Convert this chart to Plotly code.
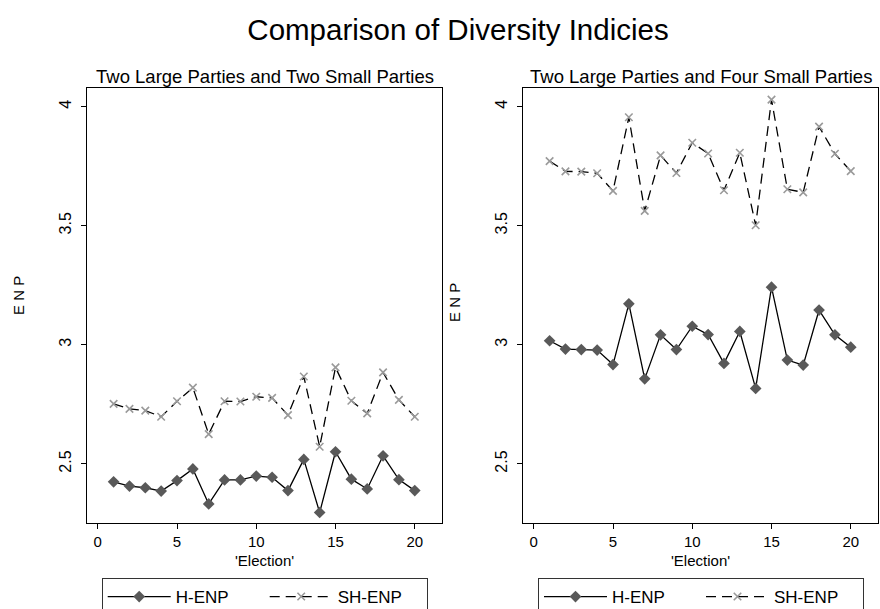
import plotly.graph_objects as go

elections = list(range(1, 21))

# Two large parties and two small parties
h_enp_2small = [2.425, 2.407, 2.400, 2.386, 2.430, 2.479, 2.332, 2.433, 2.433, 2.449,
                2.444, 2.388, 2.519, 2.296, 2.551, 2.436, 2.395, 2.534, 2.434, 2.388]
sh_enp_2small = [2.752, 2.731, 2.724, 2.698, 2.763, 2.820, 2.625, 2.763, 2.762, 2.782,
                 2.777, 2.705, 2.867, 2.572, 2.905, 2.765, 2.712, 2.884, 2.769, 2.698]

# Two large parties and four small parties
h_enp_4small = [3.017, 2.982, 2.980, 2.978, 2.917, 3.172, 2.857, 3.042, 2.980, 3.078,
                3.043, 2.922, 3.056, 2.817, 3.242, 2.936, 2.915, 3.146, 3.042, 2.990]
sh_enp_4small = [3.771, 3.728, 3.727, 3.720, 3.646, 3.955, 3.562, 3.795, 3.721, 3.848,
                 3.803, 3.649, 3.806, 3.502, 4.029, 3.653, 3.640, 3.916, 3.802, 3.729]

x_ticks = [0, 5, 10, 15, 20]
y_ticks = [2.5, 3, 3.5, 4]
y_tick_labels = ["2.5", "3", "3.5", "4"]

main_title = "Comparison of Diversity Indicies"
panel_titles = ["Two Large Parties and Two Small Parties", "Two Large Parties and Four Small Parties"]
series_names = ["H-ENP", "SH-ENP"]

W, H = 880, 609
FONT = "Liberation Sans, Arial, sans-serif"

def px_x(p):
    return p / W

def px_y(p):
    return 1 - p / H

left_dom = [px_x(87.3), px_x(441.7)]
right_dom = [px_x(523.3), px_x(877.7)]
y_dom = [px_y(523), px_y(88)]

fig = go.Figure()

panels = [
    ("x", "y", "legend", h_enp_2small, sh_enp_2small),
    ("x2", "y2", "legend2", h_enp_4small, sh_enp_4small),
]
for xa, ya, lg, h_vals, sh_vals in panels:
    fig.add_trace(go.Scatter(
        x=elections, y=h_vals, name=series_names[0], mode="lines+markers",
        xaxis=xa, yaxis=ya, legend=lg,
        line=dict(color="black", width=1.3),
        marker=dict(symbol="diamond", size=9, color="#595959"),
    ))
    fig.add_trace(go.Scatter(
        x=elections, y=sh_vals, name=series_names[1], mode="lines+markers",
        xaxis=xa, yaxis=ya, legend=lg,
        line=dict(color="black", width=1.3, dash="10px,6px"),
        marker=dict(symbol="x-thin", size=7.5, color="#9a9a9a",
                    line=dict(color="#9a9a9a", width=1.6)),
    ))

axis_common = dict(
    showline=True, mirror=True, linecolor="black", linewidth=1,
    ticks="outside", ticklen=5, tickcolor="black", tickwidth=1,
    showgrid=False, zeroline=False, automargin=False,
)
xfont = dict(family=FONT, size=15, color="black")
yfont = dict(family=FONT, size=16, color="black")
xr = [-0.66, 21.7]
yr = [2.252, 4.078]

legend_common = dict(
    orientation="h", xanchor="left", yanchor="top",
    bordercolor="#333333", borderwidth=1, bgcolor="white",
    font=dict(family=FONT, size=17, color="black"),
    itemwidth=63, entrywidth=84, entrywidthmode="pixels",
)

fig.update_layout(
    template="none",
    width=W, height=H,
    margin=dict(l=0, r=0, t=0, b=0, autoexpand=False),
    paper_bgcolor="white", plot_bgcolor="white",
    font=dict(family=FONT, color="black"),
    title=dict(text=main_title, x=px_x(458), xanchor="center", xref="paper",
               y=px_y(30), yref="container", yanchor="middle",
               font=dict(family=FONT, size=29.5, color="black")),
    xaxis=dict(domain=left_dom, range=xr, tickvals=x_ticks, anchor="y",
               tickfont=xfont, ticklabelstandoff=0, **axis_common),
    yaxis=dict(domain=y_dom, range=yr, tickvals=y_ticks, ticktext=y_tick_labels,
               tickangle=-90, anchor="x", tickfont=yfont, ticklabelstandoff=4, **axis_common),
    xaxis2=dict(domain=right_dom, range=xr, tickvals=x_ticks, anchor="y2",
                tickfont=xfont, ticklabelstandoff=0, **axis_common),
    yaxis2=dict(domain=y_dom, range=yr, tickvals=y_ticks, ticktext=y_tick_labels,
                tickangle=-90, anchor="x2", tickfont=yfont, ticklabelstandoff=4, **axis_common),
    legend=dict(x=px_x(101.7), y=px_y(578), **legend_common),
    legend2=dict(x=px_x(538), y=px_y(578), **legend_common),
    showlegend=True,
)

annotations = []
for dom, t in zip([left_dom, right_dom], panel_titles):
    annotations.append(dict(text=t, x=(dom[0] + dom[1]) / 2, y=px_y(77), xref="paper", yref="paper",
                            xanchor="center", yanchor="middle", showarrow=False,
                            font=dict(family=FONT, size=18.5, color="black")))
    annotations.append(dict(text="'Election'", x=(dom[0] + dom[1]) / 2, y=px_y(560), xref="paper",
                            yref="paper", xanchor="center", yanchor="middle", showarrow=False,
                            font=dict(family=FONT, size=15, color="black")))
annotations.append(dict(text="E N P", x=px_x(18), y=px_y(296), xref="paper", yref="paper",
                        textangle=-90, xanchor="center", yanchor="middle", showarrow=False,
                        font=dict(family=FONT, size=15, color="black")))
annotations.append(dict(text="E N P", x=px_x(455), y=px_y(303), xref="paper", yref="paper",
                        textangle=-90, xanchor="center", yanchor="middle", showarrow=False,
                        font=dict(family=FONT, size=15, color="black")))
fig.update_layout(annotations=annotations)

fig.write_html("out.html", config={"displayModeBar": False},
               post_script="document.body.style.margin='0px';document.body.style.overflow='hidden';")
